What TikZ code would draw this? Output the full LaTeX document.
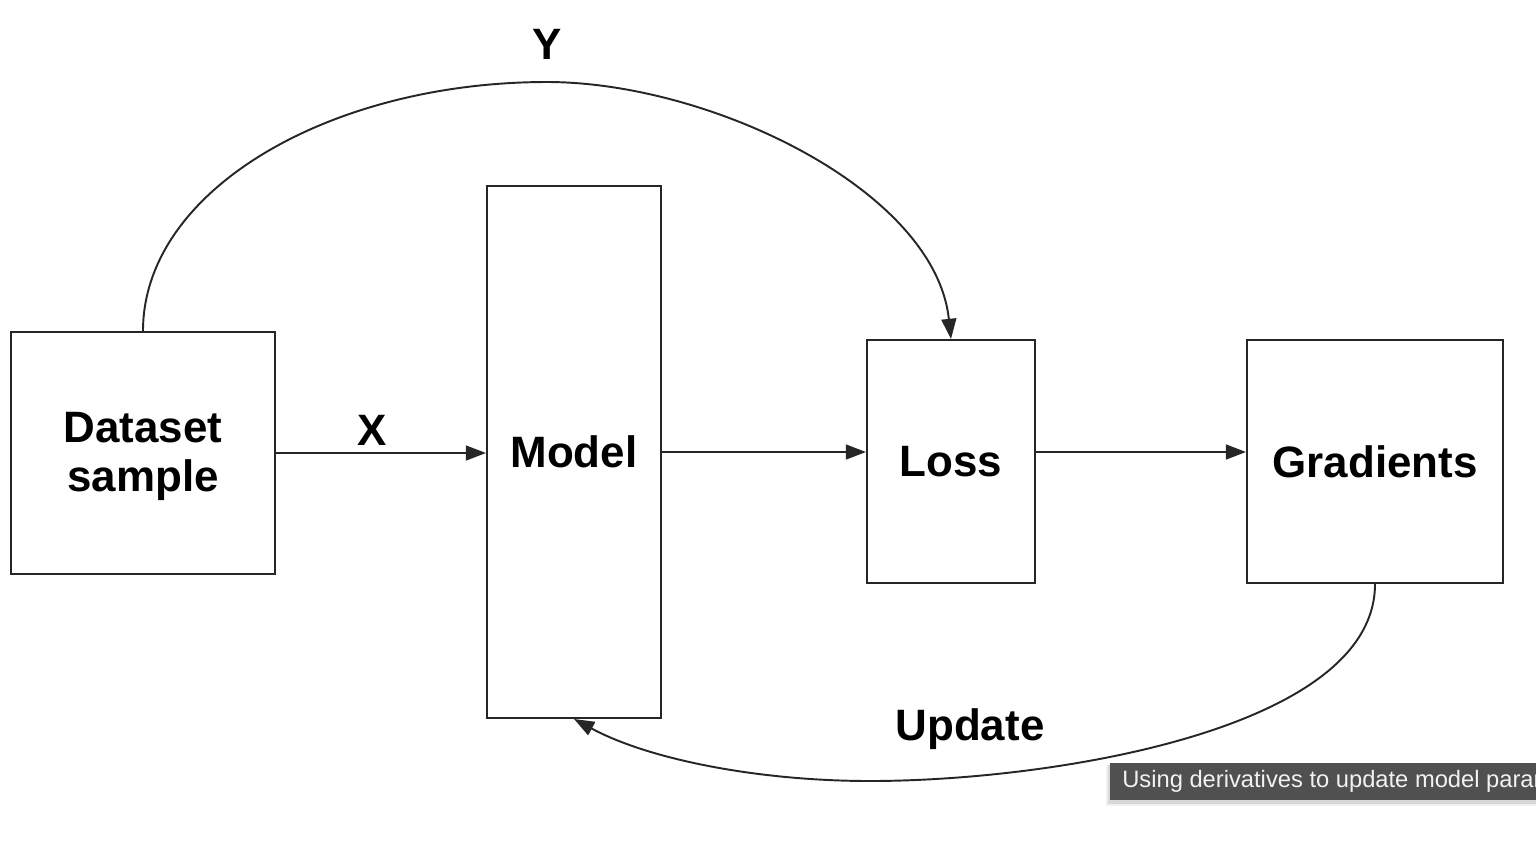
\documentclass[tikz,border=0pt]{standalone}
\usepackage{fontspec}
\setmainfont{Liberation Sans}
\usetikzlibrary{arrows.meta}
\definecolor{linec}{HTML}{262626}
\definecolor{tipbg}{HTML}{505050}
\definecolor{tiptext}{HTML}{F2F2F2}
\tikzset{
  box/.style={draw=linec, line width=1.2pt, rectangle, inner sep=0pt,
    font=\fontsize{25}{29}\selectfont\bfseries, align=center},
  conn/.style={draw=linec, line width=1.1pt, -{Triangle[length=11.5pt,width=8.5pt]}},
  lbl/.style={font=\fontsize{25}{29}\selectfont\bfseries, inner sep=0pt},
}
\begin{document}
\begin{tikzpicture}[x=0.02cm,y=-0.02cm]
\useasboundingbox (0,0) rectangle (1536,840);
\node[box, minimum width=5.28cm, minimum height=4.84cm] (dataset) at (143,453)
  {\fontsize{25}{27.8}\selectfont\raisebox{-2.6pt}[\height][\depth]{\begin{tabular}{@{}c@{}}Dataset\\sample\end{tabular}}};
\node[box, minimum width=3.48cm, minimum height=10.64cm] (model) at (574,452) {Model};
\node[box, minimum width=3.36cm, minimum height=4.86cm] (loss) at (951,461.5) {Loss};
\node[box, minimum width=5.12cm, minimum height=4.86cm] (gradients) at (1375,461.5) {Gradients};

\coordinate (ytop) at (547,82);
\coordinate (ubot) at (870,781);

\draw[conn] (dataset.east) -- (dataset.east -| model.west);
\draw[conn] (model.east) -- (model.east -| loss.west);
\draw[conn] (loss.east |- model.east) -- (gradients.west |- model.east);

\draw[conn] (dataset.north) .. controls (143,190) and (330,82) .. (ytop)
   .. controls (710,82) and (935,190) .. (loss.north);
\draw[conn] (gradients.south) .. controls (1375,730) and (1050,781) .. (ubot)
   .. controls (760,781) and (650,760) .. (model.south);

\node[lbl] (xl) at (372,430) {X};
\node[lbl] (yl) at (547,44) {Y};
\node[lbl] (ul) at (970,729) {Update};

\begin{scope}
\clip (0,0) rectangle (1536,840);
\fill[black, opacity=0.10] (1108,765) rectangle (1545,804);
\fill[black, opacity=0.06] (1106,765) rectangle (1547,806);
\fill[tipbg] (1110,763) rectangle (1545,800);
\node[anchor=west, inner sep=0pt, text=tiptext,
  font=\fontsize{13.5}{15}\selectfont] (tip) at (1122,781)
  {Using derivatives to update model parameters};
\end{scope}
\end{tikzpicture}
\end{document}
